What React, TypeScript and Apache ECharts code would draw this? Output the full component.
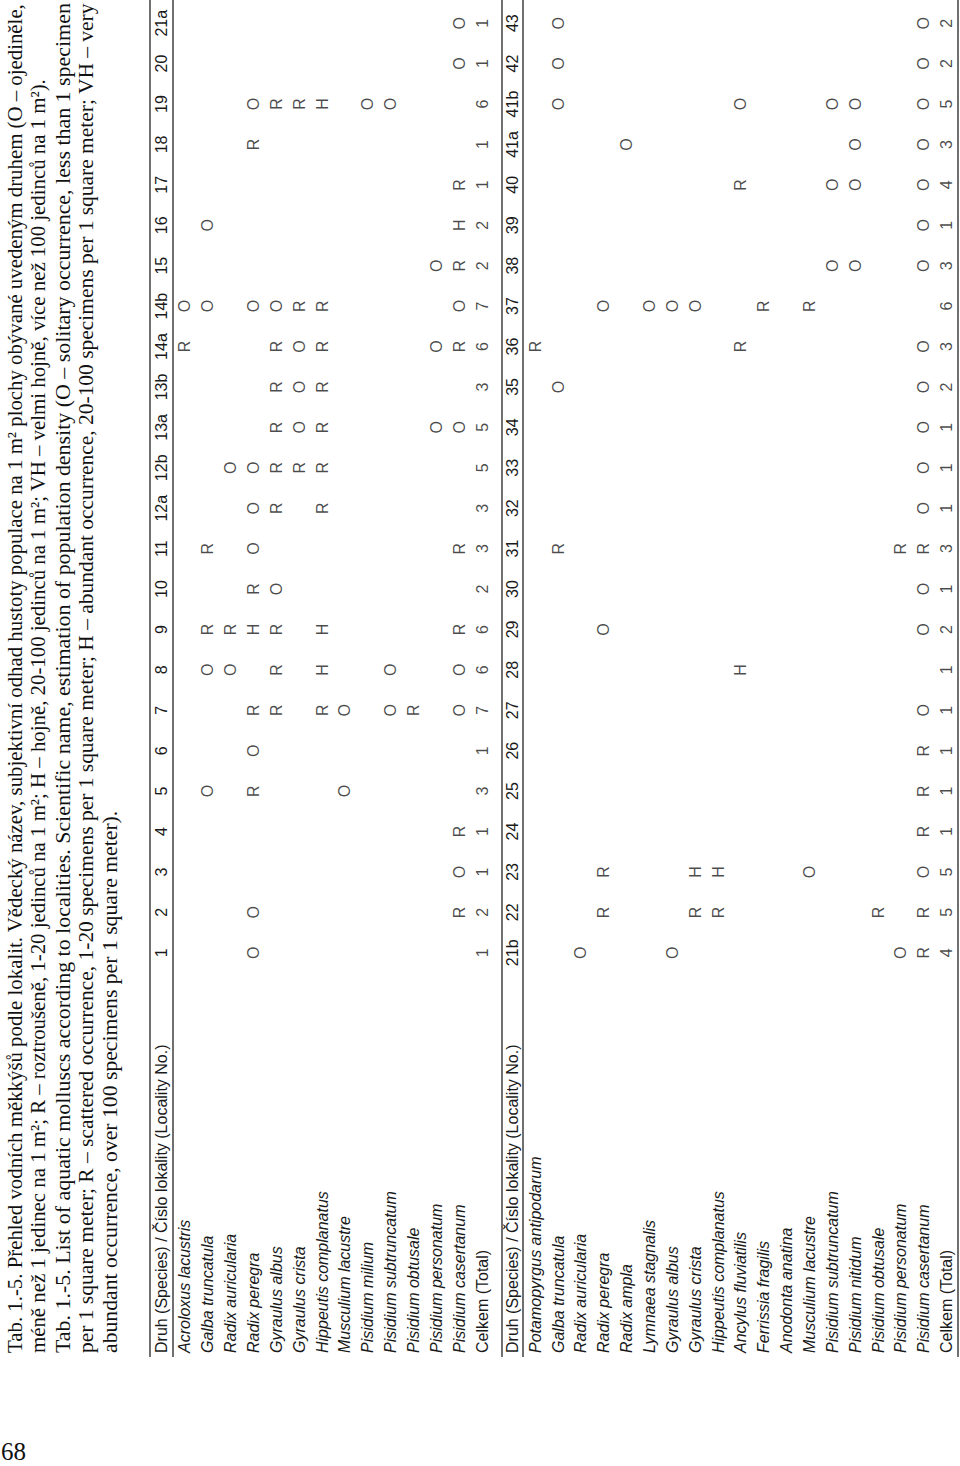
import React, { useEffect, useRef } from 'react';
import * as echarts from 'echarts';

// ---------- DATA ----------
const headerLabel = 'Druh (Species) / Číslo lokality (Locality No.)';
const totalLabel = 'Celkem (Total)';

const topLocalities = ['1', '2', '3', '4', '5', '6', '7', '8', '9', '10', '11', '12a', '12b', '13a', '13b', '14a', '14b', '15', '16', '17', '18', '19', '20', '21a'];
const topSpecies = [
  'Acroloxus lacustris', 'Galba truncatula', 'Radix auricularia', 'Radix peregra', 'Gyraulus albus',
  'Gyraulus crista', 'Hippeutis complanatus', 'Musculium lacustre', 'Pisidium milium',
  'Pisidium subtruncatum', 'Pisidium obtusale', 'Pisidium personatum', 'Pisidium casertanum',
];
// one string per species, one character per locality ('.' = not found)
const topOccurrence = [
  '...............RO.......',
  '....O..OR.R.....O.O.....',
  '.......OR...O...........',
  'OO..ROR.HROOO...O...RO..',
  '......RRRO.RRRRRO....R..',
  '............ROOOR....R..',
  '......RHH..RRRRRR....H..',
  '....O.O.................',
  '.....................O..',
  '......OO.............O..',
  '......R.................',
  '.............O.O.O......',
  '.ROR..OOR.R..O.RORHR..OO',
];
const topTotals = [1, 2, 1, 1, 3, 1, 7, 6, 6, 2, 3, 3, 5, 5, 3, 6, 7, 2, 2, 1, 1, 6, 1, 1];

const bottomLocalities = ['21b', '22', '23', '24', '25', '26', '27', '28', '29', '30', '31', '32', '33', '34', '35', '36', '37', '38', '39', '40', '41a', '41b', '42', '43'];
const bottomSpecies = [
  'Potamopyrgus antipodarum', 'Galba truncatula', 'Radix auricularia', 'Radix peregra', 'Radix ampla',
  'Lymnaea stagnalis', 'Gyraulus albus', 'Gyraulus crista', 'Hippeutis complanatus', 'Ancylus fluviatilis',
  'Ferrissia fragilis', 'Anodonta anatina', 'Musculium lacustre', 'Pisidium subtruncatum', 'Pisidium nitidum',
  'Pisidium obtusale', 'Pisidium personatum', 'Pisidium casertanum',
];
const bottomOccurrence = [
  '...............R........',
  '..........R...O......OOO',
  'O.......................',
  '.RR.....O.......O.......',
  '....................O...',
  '................O.......',
  'O...............O.......',
  '.RH.............O.......',
  '.RH.....................',
  '.......H.......R...R.O..',
  '................R.......',
  '........................',
  '..O.............R.......',
  '.................O.O.O..',
  '.................O.OOO..',
  '.R......................',
  'O.........R.............',
  'RRORRRO.OOROOOOO.OOOOOOO',
];
const bottomTotals = [4, 5, 5, 1, 1, 1, 1, 1, 2, 1, 3, 1, 1, 1, 2, 3, 6, 3, 1, 4, 3, 5, 2, 2];

const captionLines = [
  'Tab. 1.-5. Přehled vodních měkkýšů podle lokalit. Vědecký název, subjektivní odhad hustoty populace na 1 m² plochy obývané uvedeným druhem (O – ojediněle,',
  'méně než 1 jedinec na 1 m²; R – roztroušeně, 1-20 jedinců na 1 m²; H – hojně, 20-100 jedinců na 1 m²; VH – velmi hojně, více než 100 jedinců na 1 m²).',
  'Tab. 1.-5. List of aquatic molluscs according to localities. Scientific name, estimation of population density (O – solitary occurrence, less than 1 specimen',
  'per 1 square meter; R – scattered occurrence, 1-20 specimens per 1 square meter; H – abundant occurrence, 20-100 specimens per 1 square meter; VH – very',
  'abundant occurrence, over 100 specimens per 1 square meter).',
];
const pageNumber = '68';

// ---------- LAYOUT / STYLE ----------
const SANS = "'Liberation Sans', Arial, Helvetica, sans-serif";
const SERIF = "'Liberation Serif', 'Times New Roman', serif";
const INK = '#1a1a1a';
const captionX = [14.6, 38.3, 62, 85.8, 109.5];
const captionFont = 22;
const captionFullLen = 1351;

function cellData(rows: string[]) {
  const out: any[] = [];
  rows.forEach((row, r) => {
    for (let c = 0; c < row.length; c++) {
      const ch = row[c];
      if (ch !== '.') out.push({ name: ch, value: [r, c] });
    }
  });
  return out;
}

function totalData(totals: number[], rowIndex: number) {
  return totals.map((t, c) => ({ name: String(t), value: [rowIndex, c] }));
}

function nameCategories(species: string[]) {
  return [
    { value: headerLabel, textStyle: { fontStyle: 'normal' } },
    ...species.map((s) => ({ value: s, textStyle: { fontStyle: 'italic' } })),
    { value: totalLabel, textStyle: { fontStyle: 'normal' } },
  ];
}

const hiddenValueAxis = (gridIndex: number) => ({
  type: 'value', gridIndex, show: false, min: 0, max: 1,
});

const cellLabel = {
  show: true,
  position: 'inside',
  rotate: 90,
  formatter: '{b}',
  fontSize: 16,
  fontFamily: SANS,
  color: INK,
};

export default function App() {
  const ref = useRef<HTMLDivElement>(null);

  useEffect(() => {
    if (!ref.current) return;
    const chart = echarts.init(ref.current, undefined, { renderer: 'svg' });

    const ctx = document.createElement('canvas').getContext('2d')!;
    ctx.font = `${captionFont}px 'Liberation Serif'`;
    const widths = captionLines.map((l) => ctx.measureText(l).width || 1);
    // justified lines fill the full width; paragraph-final lines keep the paragraph's scale
    const s0 = captionFullLen / widths[0];
    const s2 = captionFullLen / widths[2];
    const s3 = captionFullLen / widths[3];
    const scales = [s0, s0, s2, s3, (s2 + s3) / 2];

    const captionGraphics = captionLines.map((line, i) => ({
      type: 'text',
      x: captionX[i],
      y: 1353,
      rotation: Math.PI / 2,
      scaleX: scales[i],
      silent: true,
      style: {
        text: line,
        x: 0,
        y: 0,
        fontSize: captionFont,
        fontFamily: SERIF,
        fill: '#111',
        align: 'left',
        verticalAlign: 'middle',
      },
    }));

    const ruleXs = [150, 173, 502, 523, 958];
    const rules = ruleXs.map((x) => ({
      type: 'line',
      silent: true,
      shape: { x1: x, y1: 0, x2: x, y2: 1357 },
      style: { stroke: '#222', lineWidth: 1.3 },
    }));

    const topNameLeft = 150, topNameWidth = 344;
    const topRow = topNameWidth / 15;
    const botNameLeft = 501, botNameWidth = 457;
    const botRow = botNameWidth / 20;

    const gridBase = { outerBoundsMode: 'none', containLabel: false };

    const nameAxisLabel = { inside: true, rotate: 90, margin: 2, interval: 0, fontSize: 16, fontFamily: SANS, color: INK };
    const locAxisLabel = { rotate: 90, margin: 3, interval: 0, fontSize: 16, fontFamily: SANS, color: INK };
    const noAxisDecor = { axisLine: { show: false }, axisTick: { show: false }, splitLine: { show: false } };
    const hiddenSymbol = { symbolSize: 1, itemStyle: { color: 'rgba(0,0,0,0)' }, label: cellLabel, silent: true };

    const option: any = {
      animation: false,
      backgroundColor: '#fff',
      grid: [
        { ...gridBase, left: topNameLeft + topRow, top: 3, width: topNameWidth - topRow, height: 970 },
        { ...gridBase, left: topNameLeft, top: 975, width: topNameWidth, height: 380 },
        { ...gridBase, left: botNameLeft + botRow, top: 3, width: botNameWidth - botRow, height: 970 },
        { ...gridBase, left: botNameLeft, top: 975, width: botNameWidth, height: 380 },
      ],
      xAxis: [
        { type: 'category', gridIndex: 0, data: [...topSpecies, totalLabel], show: false },
        { type: 'category', gridIndex: 1, data: nameCategories(topSpecies), position: 'bottom', ...noAxisDecor, axisLabel: nameAxisLabel },
        { type: 'category', gridIndex: 2, data: [...bottomSpecies, totalLabel], show: false },
        { type: 'category', gridIndex: 3, data: nameCategories(bottomSpecies), position: 'bottom', ...noAxisDecor, axisLabel: nameAxisLabel },
      ],
      yAxis: [
        { type: 'category', gridIndex: 0, data: topLocalities, position: 'left', ...noAxisDecor, axisLabel: locAxisLabel },
        hiddenValueAxis(1),
        { type: 'category', gridIndex: 2, data: bottomLocalities, position: 'left', ...noAxisDecor, axisLabel: locAxisLabel },
        hiddenValueAxis(3),
      ],
      series: [
        { type: 'scatter', xAxisIndex: 0, yAxisIndex: 0, data: cellData(topOccurrence), ...hiddenSymbol },
        { type: 'scatter', xAxisIndex: 0, yAxisIndex: 0, data: totalData(topTotals, topSpecies.length), ...hiddenSymbol },
        { type: 'scatter', xAxisIndex: 2, yAxisIndex: 2, data: cellData(bottomOccurrence), ...hiddenSymbol },
        { type: 'scatter', xAxisIndex: 2, yAxisIndex: 2, data: totalData(bottomTotals, bottomSpecies.length), ...hiddenSymbol },
      ],
      graphic: [
        ...captionGraphics,
        ...rules,
        {
          type: 'text', x: 1, y: 1451.5, silent: true,
          style: { text: pageNumber, x: 0, y: 0, fontSize: 25, fontFamily: SERIF, fill: '#111', align: 'left', verticalAlign: 'middle' },
        },
      ],
    };

    chart.setOption(option);
    return () => chart.dispose();
  }, []);

  return (
    <div
      ref={ref}
      style={{ position: 'absolute', left: 0, top: 0, width: 960, height: 1466, background: '#fff' }}
    />
  );
}
